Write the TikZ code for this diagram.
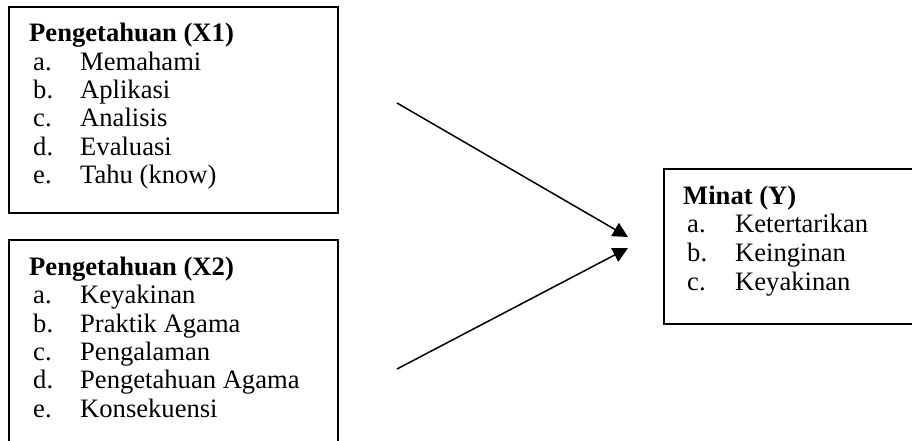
\documentclass[tikz,border=0pt]{standalone}
\usepackage{fontspec}
\setmainfont{Liberation Serif}
\usetikzlibrary{arrows.meta}
\begin{document}
\begin{tikzpicture}[x=1pt,y=-1pt,
  frame/.style={draw, line width=1.8pt, inner sep=0pt, anchor=north west},
  txt/.style={anchor=base west, inner sep=0pt, font=\fontsize{26.6}{28}\selectfont},
  ttl/.style={anchor=base west, inner sep=0pt, font=\fontsize{26.6}{28}\selectfont\bfseries},
  link/.style={line width=1.5pt, -{Triangle[length=15pt,width=15pt]}}]
\useasboundingbox (0,0) rectangle (912,441);
\clip (0,0) rectangle (912,441);
% boxes
\node[frame, minimum width=329pt, minimum height=206pt] (bx1) at (8,6) {};
\node[frame, minimum width=329pt, minimum height=232pt] (bx2) at (8,239) {};
\node[frame, minimum width=280pt, minimum height=155pt] (by) at (663,168) {};
% box 1
\node[ttl] (t1) at (29,42) {Pengetahuan (X1)};
\node[txt] (l1a) at (33,70.3) {a.};  \node[txt] (i1a) at (80,70.3) {Memahami};
\node[txt] (l1b) at (33,98.6) {b.};  \node[txt] (i1b) at (80,98.6) {Aplikasi};
\node[txt] (l1c) at (33,126.9) {c.}; \node[txt] (i1c) at (80,126.9) {Analisis};
\node[txt] (l1d) at (33,155.2) {d.}; \node[txt] (i1d) at (80,155.2) {Evaluasi};
\node[txt] (l1e) at (33,183.5) {e.}; \node[txt] (i1e) at (80,183.5) {Tahu (know)};
% box 2
\node[ttl] (t2) at (29,275.5) {Pengetahuan (X2)};
\node[txt] (l2a) at (33,303.8) {a.};  \node[txt] (i2a) at (80,303.8) {Keyakinan};
\node[txt] (l2b) at (33,332.1) {b.};  \node[txt] (i2b) at (80,332.1) {Praktik Agama};
\node[txt] (l2c) at (33,360.4) {c.};  \node[txt] (i2c) at (80,360.4) {Pengalaman};
\node[txt] (l2d) at (33,388.7) {d.};  \node[txt] (i2d) at (80,388.7) {Pengetahuan Agama};
\node[txt] (l2e) at (33,417) {e.};    \node[txt] (i2e) at (80,417) {Konsekuensi};
% box Y
\node[ttl] (ty) at (683,204) {Minat (Y)};
\node[txt] (lya) at (687,232.5) {a.}; \node[txt] (iya) at (735,232.5) {Ketertarikan};
\node[txt] (lyb) at (687,261) {b.};   \node[txt] (iyb) at (735,261) {Keinginan};
\node[txt] (lyc) at (687,290) {c.};   \node[txt] (iyc) at (735,290) {Keyakinan};
% arrows
\coordinate (s1) at (397,103);
\coordinate (e1) at (628,237);
\coordinate (s2) at (397,369);
\coordinate (e2) at (628,248);
\draw[link] (s1) -- (e1);
\draw[link] (s2) -- (e2);
\end{tikzpicture}
\end{document}
